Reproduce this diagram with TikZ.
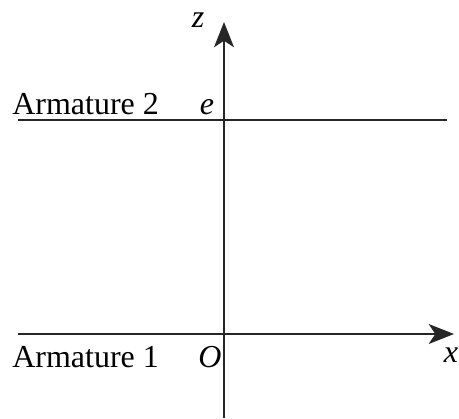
\documentclass[tikz,border=0pt]{standalone}
\usepackage{fontspec}
\setmainfont{Liberation Serif}
\usetikzlibrary{arrows.meta}

\begin{document}
\begin{tikzpicture}[
    x=0.75pt, y=-0.75pt,
    axis/.style={draw=black!85, line width=0.9pt, -{Stealth[length=19pt, width=15pt, inset=5pt]}},
    plate/.style={draw=black!85, line width=0.9pt},
    label/.style={inner sep=0pt, font=\fontsize{24}{28}\selectfont},
    var/.style={label, font=\fontsize{24}{28}\selectfont\itshape}
]
\useasboundingbox (0,0) rectangle (459,418);

% Coordinates
\coordinate (zlow) at (224,418);
\coordinate (ztop) at (224,22);
\coordinate (xleft) at (18,334);
\coordinate (xright) at (454,334);
\coordinate (pleft) at (18,120);
\coordinate (pright) at (447,120);

% Labels
\node[label, anchor=base west] (arm2) at (12,114) {Armature 2};
\node[label, anchor=base west] (arm1) at (12,367) {Armature 1};
\node[var, anchor=base] (e) at (207,114) {e};
\node[var, anchor=base] (O) at (210,367) {O};
\node[var, anchor=base] (x) at (451,362) {x};
\node[var, anchor=base] (z) at (198,27) {z};

% Axes and plates
\draw[plate] (pleft) -- (pright);
\draw[axis] (xleft) -- (xright);
\draw[axis] (zlow) -- (ztop);

\end{tikzpicture}
\end{document}
